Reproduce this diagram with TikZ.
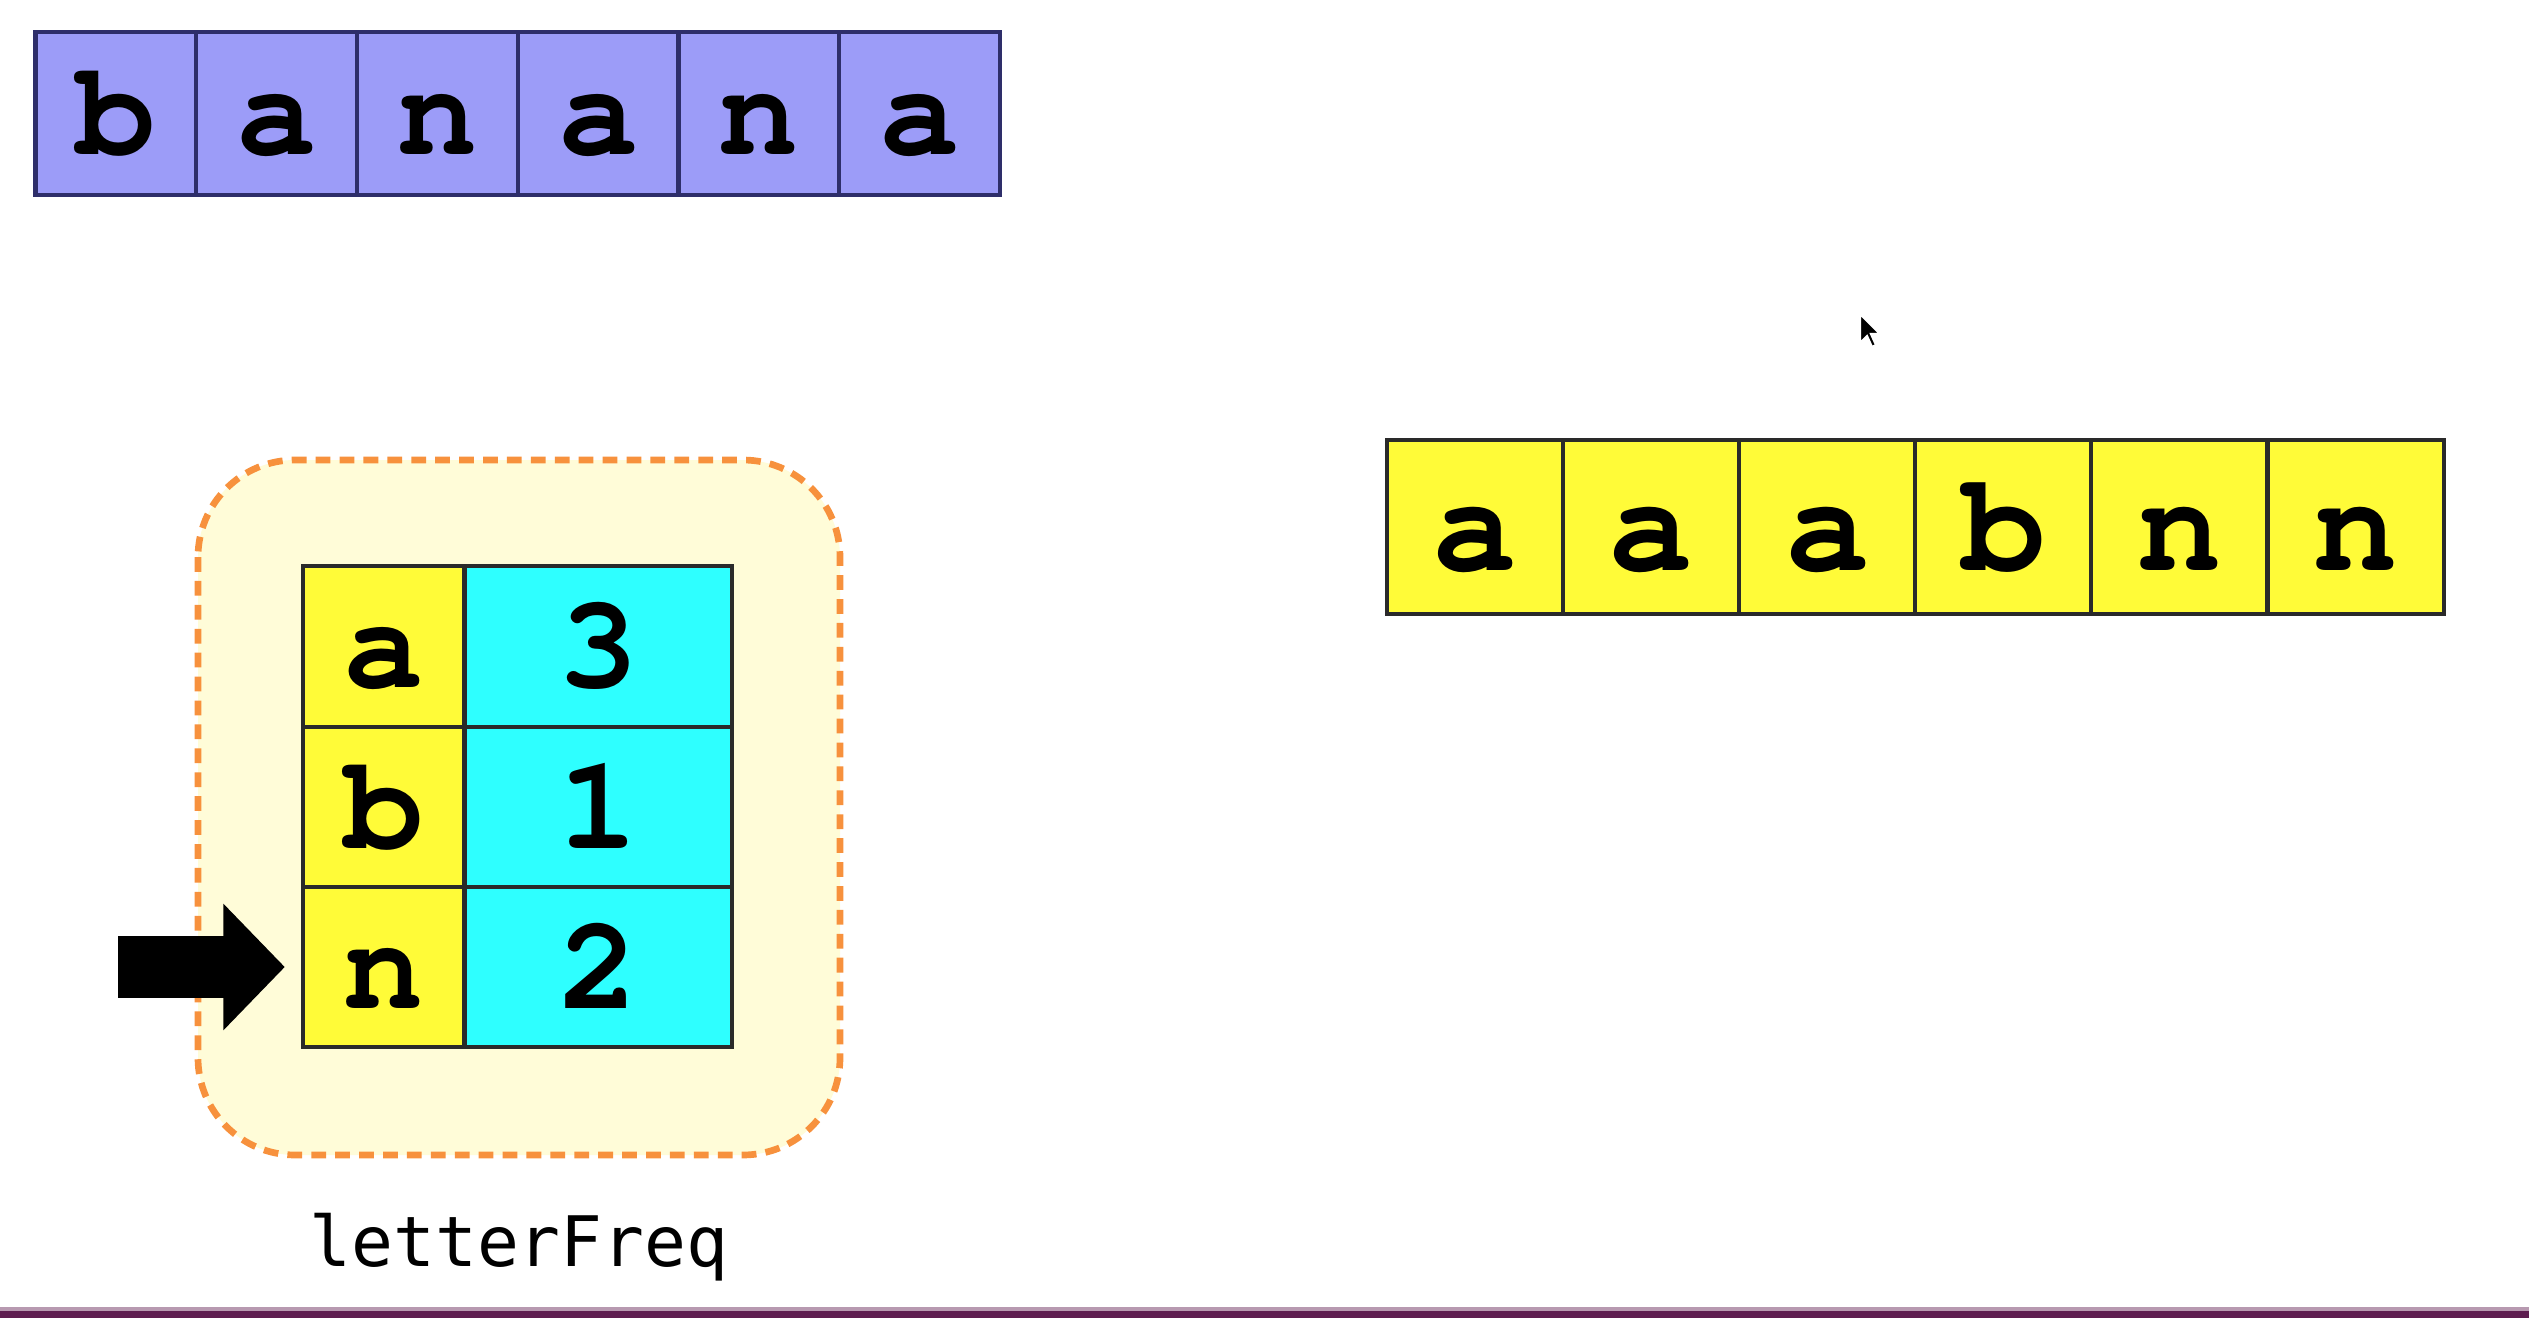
\documentclass[tikz,border=0pt]{standalone}
\usepackage{fontspec}
\newfontfamily\lblfont{DejaVu Sans Mono}
\newfontfamily\cellf{texgyrecursor-bold.otf}
\usetikzlibrary{arrows.meta}
\definecolor{lav}{HTML}{9C9CF8}
\definecolor{lavdraw}{HTML}{2E2E6A}
\definecolor{yel}{HTML}{FFFB38}
\definecolor{cya}{HTML}{2EFFFF}
\definecolor{celldraw}{HTML}{2A2A2A}
\definecolor{boxfill}{HTML}{FFFCD8}
\definecolor{boxdraw}{HTML}{F7913D}
\definecolor{barcol}{HTML}{5E1D50}
\begin{document}
\begin{tikzpicture}[x=0.01cm,y=-0.01cm,
  cellfont/.style={font=\cellf\fontsize{#1pt}{#1pt}\selectfont,text height=#1pt*0.62,text depth=0pt},
  cellbase/.style={draw=celldraw,line width=1.2pt,inner sep=0pt},
  bcell/.style={cellbase,draw=lavdraw,fill=lav,minimum width=1.6075cm,minimum height=1.63cm,cellfont=38},
  rcell/.style={cellbase,fill=yel,minimum width=1.761cm,minimum height=1.745cm,cellfont=40},
  kcell/.style={cellbase,fill=yel,minimum width=1.615cm,minimum height=1.605cm,cellfont=38},
  vcell/.style={cellbase,fill=cya,minimum width=2.675cm,minimum height=1.605cm,cellfont=38},
]
\useasboundingbox (0,0) rectangle (2529,1318);
\fill[white] (0,0) rectangle (2529,1318);

% banana array
\foreach \c [count=\i from 0] in {b,a,n,a,n,a}
  \node[bcell] (ban\i) at ({35.5+80.375+\i*160.75},113.5) {\c};

% sorted array
\foreach \c [count=\i from 0] in {a,a,a,b,n,n}
  \node[rcell] (res\i) at ({1387+88.05+\i*176.1},527) {\c};

% letterFreq box
\draw[boxdraw,fill=boxfill,line width=1.9pt,dash pattern=on 4.2pt off 2.6pt,rounded corners=0.97cm]
  (198,460) rectangle (840,1155);

\node[kcell] (ka) at (383.75,646.5) {a};
\node[vcell] (va) at (598.25,646.5) {3};
\node[kcell] (kb) at (383.75,807) {b};
\node[vcell] (vb) at (598.25,807) {1};
\node[kcell] (kn) at (383.75,967) {n};
\node[vcell] (vn) at (598.25,967) {2};

\node[font=\lblfont\fontsize{19.8}{21}\selectfont,anchor=base] (lbl) at (519,1266) {letterFreq};

% pointer arrow
\coordinate (ptail) at (118,967);
\draw[line width=17.6pt,-{Triangle[length=17.5pt,width=35pt]}] (ptail) -- ([xshift=-0.16cm]kn.west);

% mouse cursor
\fill[black,draw=white,line width=0.6pt] (1860,314) -- (1860,343) -- (1867,336) -- (1872,347) -- (1876,345) -- (1871,334) -- (1880,334) -- cycle;

% bottom bar
\fill[barcol!45] (0,1307) rectangle (2529,1311);
\fill[barcol] (0,1311) rectangle (2529,1318);
\end{tikzpicture}
\end{document}
